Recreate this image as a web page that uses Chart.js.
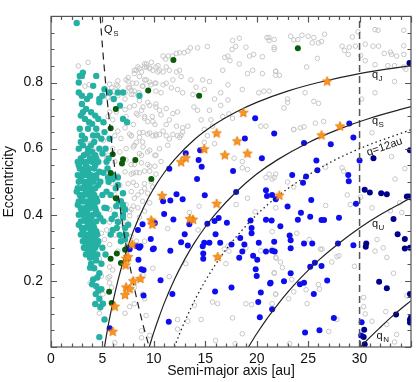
<!DOCTYPE html>
<html>
<head>
<meta charset="utf-8">
<script src="https://cdn.jsdelivr.net/npm/chart.js@4.4.1/dist/chart.umd.min.js"></script>
<style>
  html, body { margin: 0; padding: 0; background: #fff; }
  canvas { display: block; }
</style>
</head>
<body>
<canvas id="c" width="416" height="382"></canvas>
<script>
// tick labels
const xTicks = [0, 5, 10, 15, 20, 25, 30];
const yTicks = [0.2, 0.4, 0.6, 0.8];

// [semi-major axis, eccentricity]
const tealPts = [
  [2.5,0.98],[3.0,0.82],[3.1,0.83],[2.8,0.82],[4.4,0.82],[2.7,0.80],[4.1,0.79],[2.7,0.77],[3.0,0.76],[3.8,0.76],
  [4.7,0.75],[3.5,0.75],[5.2,0.78],[5.0,0.76],[5.7,0.77],[6.5,0.77],[7.0,0.77],[8.6,0.76],[6.1,0.75],[6.7,0.73],
  [4.7,0.74],[3.0,0.735],[3.1,0.71],[3.9,0.71],[4.3,0.70],[5.1,0.68],[3.3,0.69],[7.4,0.68],[7.0,0.69],[2.8,0.66],
  [3.6,0.66],[4.4,0.66],[5.2,0.65],[3.0,0.64],[4.1,0.64],[4.9,0.63],[5.7,0.63],[3.1,0.61],[3.9,0.61],[4.7,0.60],
  [3.5,0.585],[4.3,0.58],[5.0,0.585],[2.9,0.70],[3.4,0.72],[3.7,0.68],[4.0,0.675],[4.6,0.69],[2.9,0.62],[3.3,0.63],
  [3.6,0.60],[4.2,0.62],[4.5,0.64],[3.2,0.58],[3.8,0.57],[4.0,0.59],[5.3,0.60],[5.6,0.57],[2.7,0.60],[2.8,0.56],
  [2.6,0.56],[3.1,0.56],[3.5,0.56],[4.0,0.56],[4.6,0.56],[2.8,0.54],[3.3,0.54],[3.7,0.54],[4.2,0.54],[5.5,0.54],
  [2.6,0.52],[3.0,0.52],[3.4,0.52],[3.9,0.52],[4.4,0.52],[6.0,0.52],[2.7,0.50],[3.2,0.50],[3.6,0.50],[4.1,0.50],
  [4.8,0.50],[5.6,0.50],[2.6,0.48],[3.0,0.48],[3.5,0.48],[3.9,0.48],[4.3,0.48],[6.3,0.48],[2.8,0.46],[3.2,0.46],
  [3.7,0.46],[4.2,0.46],[5.0,0.46],[5.8,0.46],[2.7,0.44],[3.1,0.44],[3.5,0.44],[4.0,0.44],[4.5,0.44],[6.6,0.44],
  [2.9,0.42],[3.3,0.42],[3.8,0.42],[4.3,0.42],[5.4,0.42],[7.0,0.42],[2.7,0.40],[3.1,0.40],[3.6,0.40],[4.1,0.40],
  [4.6,0.40],[6.2,0.40],[2.9,0.38],[3.4,0.38],[3.8,0.38],[4.4,0.38],[5.1,0.38],[3.0,0.36],[3.3,0.36],[3.7,0.36],
  [4.2,0.36],[6.4,0.36],[7.2,0.36],[2.9,0.34],[3.5,0.34],[3.9,0.34],[4.5,0.34],[5.8,0.34],[3.1,0.32],[3.6,0.32],
  [4.1,0.32],[4.6,0.32],[6.8,0.32],[3.2,0.30],[3.7,0.30],[4.3,0.30],[5.0,0.30],[7.4,0.30],[3.4,0.28],[3.9,0.28],
  [4.5,0.28],[5.3,0.28],[2.9,0.57],[3.8,0.57],[4.4,0.57],[2.7,0.55],[3.4,0.55],[4.3,0.55],[3.1,0.53],[3.6,0.53],
  [4.7,0.53],[2.9,0.51],[3.8,0.51],[4.4,0.51],[3.3,0.49],[3.7,0.49],[4.6,0.49],[2.5,0.47],[3.4,0.47],[4.0,0.47],
  [3.0,0.45],[3.9,0.45],[4.4,0.45],[2.6,0.43],[3.6,0.43],[4.2,0.43],[3.0,0.41],[3.5,0.41],[4.4,0.41],[3.3,0.39],
  [3.9,0.39],[4.8,0.39],[2.7,0.37],[3.6,0.37],[4.1,0.37],[3.1,0.35],[3.9,0.35],[4.4,0.35],[3.3,0.33],[3.8,0.33],
  [4.3,0.33],[3.4,0.31],[3.9,0.31],[4.5,0.31],[3.6,0.29],[4.1,0.29],[3.8,0.27],[4.3,0.27],
  [5.4,0.56],[6.0,0.51],[6.5,0.49],[7.0,0.43],[7.5,0.37],[7.3,0.34],[7.0,0.40],[5.1,0.527],[5.55,0.513],[6.0,0.508],
  [6.5,0.513],[7.0,0.465],[6.8,0.441],[6.35,0.426],[7.2,0.416],[5.9,0.387],[6.5,0.378],[6.0,0.354],[7.0,0.392],[6.7,0.339],
  [7.2,0.325],[5.2,0.421],[5.4,0.47],
  [4.1,0.276],[4.4,0.262],[4.9,0.252],[3.9,0.252],[4.2,0.238],[4.7,0.223],[4.1,0.204],[4.4,0.184],[4.9,0.175],[4.35,0.16],
  [4.7,0.146],[5.05,0.131],[4.8,0.121],[5.2,0.083],[4.7,0.03],[3.8,0.24],[4.5,0.21],[4.0,0.19],[4.6,0.17],[4.3,0.13]
];

const greenPts = [
  [11.9,0.868],[9.45,0.776],[14.4,0.76],[24.0,0.904],[6.3,0.72],[5.8,0.662],[6.0,0.583],[7.0,0.568],[8.2,0.566],[6.9,0.555],
  [5.8,0.526],[9.75,0.508],[6.3,0.45],[7.2,0.294],[6.4,0.283],[5.8,0.267],[6.8,0.254],[5.65,0.167],[5.9,0.133]
];

const starPts = [
  [18.7,0.708],[16.1,0.646],[18.1,0.622],[26.85,0.803],[28.1,0.667],[26.3,0.64],[14.9,0.598],[16.9,0.58],[19.1,0.585],[13.1,0.571],
  [12.65,0.559],[10.8,0.457],[16.1,0.433],[13.8,0.385],[13.5,0.387],[9.75,0.383],[9.85,0.37],[7.9,0.31],[22.2,0.458],[16.2,0.272],
  [8.7,0.206],[8.0,0.199],[7.3,0.18],[7.2,0.157],[7.65,0.175],[7.3,0.267],[7.25,0.247],[7.5,0.272],[6.2,0.122],[6.0,0.046]
];

const bluePts = [
  [19.85,0.692],[21.7,0.646],[18.85,0.631],[29.0,0.676],[29.4,0.634],[14.5,0.595],[13.1,0.586],[14.35,0.566],[20.5,0.571],[11.5,0.539],
  [14.65,0.545],[17.7,0.532],[14.2,0.508],[18.0,0.469],[12.2,0.462],[12.8,0.447],[14.95,0.459],[11.6,0.443],[10.9,0.441],[20.9,0.474],
  [21.0,0.457],[21.85,0.447],[11.0,0.402],[11.9,0.386],[8.9,0.371],[16.3,0.39],[15.9,0.381],[17.1,0.376],[15.2,0.373],[13.45,0.371],
  [19.4,0.383],[19.5,0.36],[20.9,0.385],[21.45,0.383],[8.45,0.354],[13.0,0.341],[16.0,0.341],[18.4,0.33],[19.5,0.344],[14.9,0.315],
  [12.65,0.317],[16.45,0.315],[17.55,0.31],[18.8,0.31],[20.2,0.315],[21.7,0.318],[8.35,0.305],[8.6,0.3],[9.9,0.296],[11.6,0.291],
  [13.3,0.307],[15.4,0.315],[18.6,0.289],[20.9,0.289],[14.75,0.305],
  [24.6,0.617],[27.2,0.613],[30.0,0.564],[25.8,0.564],[25.9,0.535],[24.8,0.516],[23.45,0.52],[28.9,0.52],[28.95,0.501],[24.5,0.497],
  [21.5,0.46],[25.3,0.445],[29.65,0.433],[23.0,0.425],[24.3,0.406],[25.2,0.394],[24.0,0.385],[26.3,0.384],[26.55,0.384],[28.0,0.391],
  [22.3,0.365],[23.2,0.337],[23.3,0.323],[24.6,0.313],[25.4,0.313],[27.9,0.313],[29.4,0.308],[23.3,0.299],
  [21.5,0.291],[22.65,0.199],[24.2,0.19],[24.6,0.194],[25.55,0.16],[26.85,0.201],[25.2,0.243],[25.65,0.255],[26.3,0.245],[23.3,0.223],
  [21.35,0.194],[21.5,0.114],[27.5,0.088],[24.7,0.044],[26.1,0.051],[30.2,0.075],[30.15,0.035],
  [10.0,0.298],[14.8,0.283],[14.8,0.267],[8.5,0.264],[8.8,0.235],[9.0,0.233],[18.3,0.27],[19.65,0.276],[20.05,0.264],[21.75,0.289],
  [19.9,0.235],[20.0,0.215],[21.3,0.192],[10.65,0.202],[9.0,0.156],[11.8,0.16],[17.55,0.18],[15.95,0.168],[20.4,0.165],[20.15,0.136],
  [20.3,0.09],[11.45,0.076],[5.7,0.057],[7.65,0.296],[10.1,0.375],[9.7,0.327],[8.7,0.305]
];

const navyPts = [
  [34.85,0.859],[31.35,0.571],[30.5,0.476],[31.0,0.467],[32.1,0.465],[32.65,0.462],[34.6,0.455],[34.8,0.455],[35.0,0.452],[34.9,0.595],
  [33.3,0.387],[33.7,0.341],[34.4,0.327],[30.65,0.313],[30.6,0.303],[34.9,0.3],[34.4,0.298],[31.9,0.197],[32.65,0.178],[34.9,0.16],
  [33.55,0.098],[34.9,0.083],[34.9,0.074],[35.0,0.09],[30.45,0.052],[30.4,0.03],[30.5,0.008]
];

const greyPts = [
  // upper middle
  [17.65,0.927],[18.3,0.934],[21.0,0.936],[21.2,0.927],[18.95,0.907],[17.95,0.909],[17.6,0.9],[17.2,0.88],[16.9,0.876],[17.4,0.866],
  [19.3,0.88],[19.7,0.885],[20.55,0.878],[21.7,0.9],[21.85,0.834],[21.85,0.822],[20.55,0.827],[19.1,0.827],[19.6,0.837],[18.3,0.856],
  [16.7,0.837],[15.2,0.909],[14.25,0.905],[13.55,0.905],[13.3,0.895],[12.95,0.89],[12.5,0.89],[12.2,0.888],[11.8,0.88],[11.4,0.88],
  [10.9,0.88],[11.15,0.871],[10.4,0.851],[10.55,0.837],[10.9,0.832],[9.75,0.861],[9.1,0.856],[9.3,0.847],[8.6,0.842],[8.3,0.837],
  [8.1,0.827],[8.8,0.832],[9.6,0.842],[11.2,0.847],[11.5,0.837],[12.2,0.832],[12.5,0.837],[12.65,0.818],[11.85,0.808],[11.2,0.798],
  [10.9,0.793],[10.1,0.798],[9.1,0.808],[9.6,0.801],[8.95,0.789],[7.95,0.798],[7.65,0.784],[8.1,0.774],[8.55,0.769],[7.8,0.764],
  [10.2,0.774],[10.7,0.769],[11.7,0.784],[12.3,0.779],[12.8,0.769],[13.8,0.764],[14.1,0.786],[14.9,0.779],[16.5,0.769],[14.75,0.808],
  [13.6,0.808],[15.4,0.803],[17.2,0.793],[18.6,0.779],[20.2,0.769],[20.7,0.774],[17.2,0.747],[15.9,0.75],[16.5,0.731],[15.4,0.716],
  [14.25,0.716],[13.9,0.726],[12.3,0.711],[11.85,0.706],[11.2,0.721],[10.55,0.716],[10.2,0.726],[9.6,0.731],[8.95,0.726],[8.8,0.716],
  [8.3,0.706],[9.1,0.697],[9.85,0.697],[10.7,0.702],[11.5,0.687],[9.4,0.682],[10.1,0.673],[11.2,0.673],[12.2,0.668],[12.8,0.663],
  [13.3,0.668],[12.8,0.65],[12.65,0.641],[12.3,0.639],[10.9,0.653],[10.2,0.639],[9.6,0.647],[8.95,0.649],[8.6,0.634],[7.8,0.639],
  [14.6,0.687],[15.55,0.687],[16.7,0.697],[17.3,0.705],[17.65,0.692],[20.4,0.668],[20.9,0.668],[15.7,0.668],[14.9,0.658],[15.2,0.639],
  // upper right
  [31.5,0.96],[31.8,0.958],[34.3,0.958],[23.3,0.94],[24.4,0.943],[25.0,0.94],[23.6,0.929],[24.0,0.93],[21.7,0.93],[21.2,0.936],
  [25.55,0.936],[25.4,0.92],[26.0,0.92],[26.3,0.924],[26.6,0.946],[29.3,0.938],[29.85,0.953],[30.55,0.916],[31.3,0.91],[31.85,0.91],
  [34.3,0.911],[28.3,0.91],[29.0,0.907],[29.6,0.91],[28.55,0.897],[28.9,0.885],[30.1,0.882],[32.4,0.888],[33.0,0.892],[33.1,0.885],
  [33.6,0.88],[34.3,0.885],[21.7,0.906],[25.9,0.873],[30.55,0.866],[31.5,0.854],[32.75,0.851],[33.4,0.851],[34.3,0.847],[24.85,0.847],
  [21.85,0.834],[22.2,0.822],[34.5,0.84],[33.4,0.803],[25.55,0.743],[26.0,0.737],[23.0,0.75],[23.0,0.74],[22.65,0.723],[24.7,0.769],
  [31.5,0.769],[30.2,0.75],[24.25,0.663],[24.6,0.666],[25.7,0.677],[26.5,0.682],[23.6,0.658],[21.2,0.774],
  // left, among the teal cloud
  [2.65,0.85],[3.6,0.861],[3.3,0.789],[3.7,0.793],[5.7,0.795],[5.9,0.784],[6.35,0.793],[6.5,0.805],[7.3,0.808],[7.5,0.815],
  [8.1,0.837],[8.45,0.847],[9.1,0.847],[9.3,0.856],[9.6,0.844],[9.9,0.837],[10.2,0.847],[10.4,0.832],[8.6,0.818],[9.25,0.808],
  [8.3,0.798],[8.9,0.789],[9.7,0.793],[10.2,0.798],[7.5,0.784],[7.8,0.776],[7.2,0.769],[8.0,0.764],[6.5,0.76],[6.0,0.76],
  [5.55,0.755],[7.2,0.75],[8.6,0.745],[9.4,0.74],[10.2,0.735],[8.1,0.73],[7.65,0.726],[7.2,0.718],[6.35,0.711],[5.7,0.711],
  [5.55,0.697],[6.0,0.687],[7.3,0.697],[8.45,0.702],[9.1,0.692],[9.9,0.682],[8.0,0.673],[7.2,0.663],[6.5,0.653],[6.2,0.639],
  [6.8,0.631],[7.65,0.644],[8.6,0.648],[9.4,0.644],[10.2,0.644],[8.9,0.62],[8.1,0.61],[7.3,0.60],[6.7,0.59],[6.0,0.60],
  [8.6,0.585],[9.6,0.595],[10.2,0.58],[5.1,0.624],[4.4,0.629],[3.8,0.615],[4.1,0.595],[5.55,0.58],[3.3,0.624],[4.75,0.745],
  [5.55,0.755],[7.5,0.803],[6.1,0.774],[6.5,0.789],
  [5.4,0.571],[6.2,0.561],[7.3,0.566],[7.8,0.552],[8.8,0.557],[9.4,0.552],[10.1,0.547],[9.6,0.532],[8.6,0.527],[8.0,0.526],
  [7.2,0.53],[6.5,0.518],[5.55,0.508],[5.9,0.494],[6.7,0.489],[7.5,0.494],[8.3,0.489],[9.1,0.494],[9.9,0.484],[7.8,0.47],
  [8.8,0.47],[9.4,0.465],[7.0,0.465],[6.2,0.46],[8.1,0.45],[8.9,0.441],[9.6,0.436],[7.3,0.431],[6.7,0.426],[5.7,0.416],
  [7.8,0.416],[8.45,0.421],[9.1,0.411],[7.65,0.397],[8.6,0.392],[6.35,0.392],[5.7,0.378],[6.7,0.368],[7.3,0.378],[5.4,0.354],
  [4.9,0.344],[6.2,0.339],[5.2,0.325],[7.8,0.334],[8.3,0.32],[5.7,0.31],[3.3,0.298],[9.1,0.32],
  [7.8,0.639],[8.3,0.619],[8.0,0.605],[8.95,0.605],[9.4,0.59],[8.8,0.58],[8.1,0.552],[7.8,0.523],[8.3,0.528],[9.1,0.532],
  [8.0,0.498],[9.1,0.479],[8.45,0.46],[8.0,0.426],[7.65,0.409],[9.9,0.639],[10.55,0.643],[11.2,0.639],[11.5,0.629],[11.85,0.643],
  [12.5,0.634],[11.35,0.61],[10.55,0.6],[10.1,0.58],[10.7,0.561],[9.6,0.547],[10.2,0.523],[9.75,0.5],
  // lower left
  [4.7,0.267],[5.7,0.242],[6.0,0.233],[4.9,0.215],[5.55,0.209],[5.7,0.194],[3.8,0.194],[5.9,0.18],[5.05,0.16],[4.6,0.136],
  [4.7,0.102],[7.2,0.102],[8.9,0.16],[9.1,0.146],[9.25,0.095],[8.8,0.049],[8.8,0.028],[9.6,0.035],[6.2,0.013],[8.1,0.131],
  [8.1,0.18],[3.3,0.296],[4.75,0.117],[6.5,0.29],[5.7,0.213],
  // middle
  [14.9,0.619],[15.9,0.615],[17.8,0.571],[18.6,0.561],[18.6,0.542],[19.1,0.537],[20.9,0.513],[21.5,0.508],[14.4,0.426],[13.45,0.407],
  [14.3,0.354],[11.35,0.358],[19.1,0.45],[18.0,0.431],[21.85,0.421],[19.85,0.409],
  [16.85,0.296],[17.2,0.305],[17.3,0.29],[9.9,0.238],[11.5,0.213],[13.1,0.252],[17.0,0.252],[18.95,0.3],[20.4,0.291],[21.5,0.296],
  [21.85,0.271],[8.95,0.218],[7.65,0.122],[12.3,0.083],[13.3,0.078],[14.6,0.083],[13.95,0.126],[15.7,0.136],[16.2,0.131],[17.65,0.088],
  [18.6,0.04],[17.9,0.01],[18.95,0.131],[19.5,0.128],[21.85,0.16],[21.7,0.223],[12.3,0.054],[16.0,0.02],
  // right
  [23.6,0.658],[31.2,0.648],[33.1,0.576],[34.4,0.54],[33.45,0.508],[21.2,0.523],[21.85,0.523],[21.7,0.513],[28.3,0.542],[28.45,0.532],
  [26.7,0.544],[23.0,0.499],[23.6,0.484],[28.8,0.46],[30.1,0.453],[26.7,0.428],[29.1,0.431],[23.9,0.344],[21.5,0.349],[25.1,0.325],
  [33.0,0.412],[31.2,0.421],[34.1,0.407],[33.9,0.436],[31.7,0.325],[26.2,0.296],
  [26.35,0.296],[27.8,0.273],[28.0,0.276],[27.3,0.257],[29.5,0.244],[21.9,0.269],[22.3,0.257],[22.5,0.24],[23.4,0.204],[21.7,0.225],
  [26.0,0.189],[26.1,0.175],[24.8,0.173],[23.6,0.167],[21.85,0.16],[24.9,0.131],[23.1,0.146],[21.5,0.131],[27.8,0.083],[27.0,0.047],
  [23.2,0.01],[30.4,0.15],[30.4,0.122],[30.55,0.1],[31.2,0.078],[31.5,0.29],[32.3,0.3],[32.65,0.271],[33.3,0.223],[34.6,0.155],
  [32.55,0.107],[33.6,0.038],[33.4,0.015],[32.65,0.068]
];

// reference curves
const qJLine = [[5.2,0],[5.5,0.055],[6,0.133],[6.5,0.2],[7,0.257],[8,0.35],[9,0.422],[10,0.48],[11,0.527],[12,0.567],[14,0.629],[16,0.675],[18,0.711],[20,0.74],[23,0.774],[26,0.8],[30,0.827],[35,0.851]];
const qSLine = [[9.55,0],[10,0.045],[10.5,0.09],[11,0.132],[12,0.204],[13,0.265],[14,0.318],[15,0.363],[16,0.403],[18,0.469],[20,0.523],[22,0.566],[25,0.618],[28,0.659],[31,0.692],[35,0.727]];
const q12Line = [[12,0],[12.5,0.04],[13,0.077],[14,0.143],[15,0.2],[16,0.25],[17,0.294],[18,0.333],[20,0.4],[22,0.455],[24,0.5],[27,0.556],[30,0.6],[35,0.657]];
const qULine = [[19.2,0],[20,0.04],[21,0.086],[22,0.127],[23,0.165],[24,0.2],[25,0.232],[26,0.262],[28,0.314],[30,0.36],[32,0.4],[35,0.451]];
const qNLine = [[30.1,0],[31,0.029],[32,0.059],[33,0.088],[34,0.115],[35,0.14]];
const QSLine = [[4.78,1.0],[5,0.91],[5.5,0.736],[6,0.592],[6.5,0.469],[7,0.364],[7.5,0.273],[8,0.194],[8.5,0.124],[9,0.061],[9.55,0]];
const a30Line = [[30,0],[30,1]];

const FONT = '"Liberation Sans", Arial, Helvetica, sans-serif';
const xy = (arr) => arr.map(([x, y]) => ({ x, y }));

// filled five point star for the orange markers
function makeStar(r, fill, stroke) {
  const c = document.createElement('canvas');
  c.width = c.height = 2 * r + 2;
  const g = c.getContext('2d');
  g.translate(r + 1, r + 1);
  g.beginPath();
  for (let i = 0; i < 10; i++) {
    const rad = i % 2 === 0 ? r : r * 0.45;
    const ang = -Math.PI / 2 + i * Math.PI / 5;
    g.lineTo(rad * Math.cos(ang), rad * Math.sin(ang));
  }
  g.closePath();
  g.fillStyle = fill;
  g.fill();
  g.strokeStyle = stroke;
  g.lineWidth = 0.8;
  g.stroke();
  return c;
}
const starImg = makeStar(5, '#fb9420', '#e27a08');

const pointSet = (data, color, r, order) => ({
  data: xy(data), showLine: false, pointRadius: r, pointHoverRadius: r,
  pointBackgroundColor: color, pointBorderWidth: 0, order,
});
const lineSet = (data, dash, color, width, order) => ({
  type: 'line', data: xy(data), showLine: true, pointRadius: 0, borderColor: color,
  borderWidth: width, borderDash: dash, cubicInterpolationMode: 'monotone', fill: false, order,
});

// inward ticks on all four sides + top/right frame
const frameTicks = {
  id: 'frameTicks',
  afterDatasetsDraw(chart) {
    const { ctx, chartArea: a, scales: { x, y } } = chart;
    ctx.save();
    ctx.strokeStyle = '#555';
    ctx.lineWidth = 1.2;
    ctx.strokeRect(a.left, a.top, a.right - a.left, a.bottom - a.top);
    ctx.beginPath();
    for (let v = 0; v <= 35; v += 1) {
      const px = Math.round(x.getPixelForValue(v)) + 0.5;
      const len = v % 5 === 0 ? 6 : 3.5;
      ctx.moveTo(px, a.bottom); ctx.lineTo(px, a.bottom - len);
      ctx.moveTo(px, a.top); ctx.lineTo(px, a.top + len);
    }
    for (let i = 0; i <= 20; i++) {
      const py = Math.round(y.getPixelForValue(i * 0.05)) + 0.5;
      const len = i % 4 === 0 ? 6 : 3.5;
      ctx.moveTo(a.left, py); ctx.lineTo(a.left + len, py);
      ctx.moveTo(a.right, py); ctx.lineTo(a.right - len, py);
    }
    ctx.stroke();
    ctx.restore();
  },
};

// curve labels
const curveLabels = {
  id: 'curveLabels',
  afterDatasetsDraw(chart) {
    const { ctx, scales: { x, y } } = chart;
    ctx.save();
    ctx.fillStyle = '#111';
    ctx.textBaseline = 'alphabetic';
    const sub = (a, e, main, s) => {
      const px = x.getPixelForValue(a), py = y.getPixelForValue(e);
      ctx.font = '11px ' + FONT;
      ctx.fillText(main, px, py);
      const w = ctx.measureText(main).width;
      ctx.font = '8px ' + FONT;
      ctx.fillText(s, px + w + 0.5, py + 3);
    };
    sub(5.16, 0.949, 'Q', 'S');
    sub(31.2, 0.813, 'q', 'J');
    sub(31.2, 0.674, 'q', 'S');
    sub(31.2, 0.364, 'q', 'U');
    sub(31.65, 0.023, 'q', 'N');
    ctx.translate(x.getPixelForValue(32.43), y.getPixelForValue(0.605));
    ctx.rotate(-19 * Math.PI / 180);
    ctx.font = '11px ' + FONT;
    ctx.textAlign = 'center';
    ctx.textBaseline = 'middle';
    ctx.fillText('q=12au', 0, 0);
    ctx.restore();
  },
};

new Chart(document.getElementById('c'), {
  type: 'scatter',
  data: {
    datasets: [
      { ...pointSet(starPts, '#fb9420', 5, 0), pointStyle: starImg },
      lineSet(qJLine, [], '#222', 1.2, 1),
      lineSet(qSLine, [], '#222', 1.2, 1),
      lineSet(q12Line, [1.5, 3], '#222', 1.3, 1),
      lineSet(qULine, [], '#222', 1.2, 1),
      lineSet(qNLine, [], '#222', 1.2, 1),
      lineSet(QSLine, [7, 5], '#222', 1.2, 1),
      { ...lineSet(a30Line, [7, 4], '#555', 1.5, 1), cubicInterpolationMode: 'default' },
      pointSet(navyPts, '#00008c', 3, 2),
      pointSet(bluePts, '#0d0def', 3, 3),
      pointSet(greenPts, '#0a5c0a', 3, 4),
      pointSet(tealPts, '#25b0a4', 3.2, 5),
      {
        data: xy(greyPts), showLine: false, pointRadius: 2.3, pointHoverRadius: 2.3,
        pointBackgroundColor: 'rgba(255,255,255,0)', pointBorderColor: '#c6c6c6', pointBorderWidth: 1, order: 6,
      },
    ],
  },
  options: {
    responsive: false,
    animation: false,
    events: [],
    layout: { padding: { top: 2, right: 1, left: 0, bottom: 0 } },
    plugins: { legend: { display: false }, tooltip: { enabled: false } },
    scales: {
      x: {
        type: 'linear', min: 0, max: 35,
        grid: { display: false, drawTicks: false },
        border: { display: false },
        ticks: {
          stepSize: 5, padding: 4, color: '#111', font: { family: FONT, size: 14 },
          callback: (v) => (xTicks.includes(v) ? String(v) : null),
        },
        title: { display: true, text: 'Semi-major axis [au]', color: '#111', font: { family: FONT, size: 14 }, padding: { top: 0, bottom: 2 } },
        afterFit: (s) => { s.height = 35; },
      },
      y: {
        type: 'linear', min: 0, max: 1,
        grid: { display: false, drawTicks: false },
        border: { display: false },
        ticks: {
          stepSize: 0.2, padding: 8, color: '#111', font: { family: FONT, size: 14 },
          callback: (v) => (yTicks.some((t) => Math.abs(t - v) < 1e-6) ? v.toFixed(1) : null),
        },
        title: { display: true, text: 'Eccentricity', color: '#111', font: { family: FONT, size: 14 }, padding: { top: 1, bottom: 0 } },
        afterFit: (s) => { s.width = 51; },
      },
    },
  },
  plugins: [frameTicks, curveLabels],
});
</script>
</body>
</html>
